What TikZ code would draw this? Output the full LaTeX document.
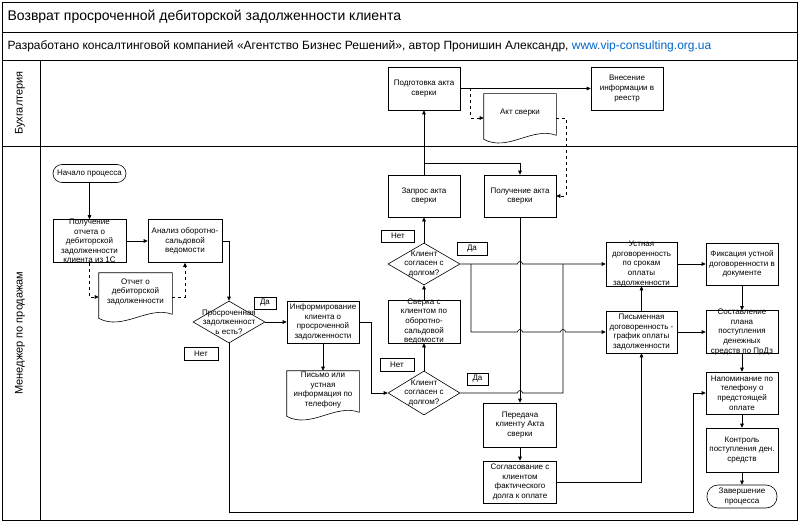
\documentclass[tikz,border=0pt]{standalone}
\usepackage{fontspec}
\setmainfont{Liberation Sans}
\usetikzlibrary{arrows.meta, shapes.geometric}
\definecolor{urlblue}{RGB}{0,102,204}

\begin{document}
\begin{tikzpicture}[x=1pt, y=-1pt, line width=0.6pt,
  every node/.style={font=\fontsize{8}{9.6}\selectfont},
  boxtext/.style={execute at begin node={\hbox to 0pt\bgroup\hss\vbox to 0pt\bgroup\vss\hbox\bgroup\vbox\bgroup\hsize=84pt\centering},
                  execute at end node={\endgraf\egroup\egroup\vss\egroup\hss\egroup}},
  box/.style={draw, boxtext, inner sep=0pt, minimum width=72pt, minimum height=43pt},
  dec/.style={draw, diamond, boxtext, inner sep=0pt, minimum width=72pt, minimum height=42pt},
  term/.style={draw, boxtext, inner sep=0pt, minimum width=72pt},
  doc/.style={boxtext, inner sep=0pt, minimum width=72pt, minimum height=38pt},
  lbl/.style={draw, inner sep=0pt, minimum height=12pt},
  arr/.style={-{Triangle[length=4pt, width=3.6pt]}},
  hop/.style={insert path={arc[start angle=180, end angle=0, radius=2.5pt]}}]
  \useasboundingbox (0,0) rectangle (804,527);

  % Frame, title and lanes
  \draw[line width=0.8pt] (2,2) rectangle (797,520);
  \draw (2,32) -- (797,32);
  \draw (2,60) -- (797,60);
  \draw (2,146) -- (797,146);
  \draw (40,60) -- (40,520);
  \node[anchor=west, font=\fontsize{14}{16}\selectfont] (title) at (4,17)
    {Возврат просроченной дебиторской задолженности клиента};
  \node[anchor=west, font=\fontsize{12}{14}\selectfont] (subtitle) at (4,46)
    {Разработано консалтинговой компанией «Агентство Бизнес Решений», автор Пронишин Александр, \textcolor{urlblue}{www.vip-consulting.org.ua}};
  \node[rotate=90, font=\fontsize{11}{13}\selectfont] (lanebuh) at (20,103) {Бухгалтерия};
  \node[rotate=90, font=\fontsize{11}{13}\selectfont] (lanemen) at (20,333) {Менеджер по продажам};

  % Lane 1: accounting
  \node[box] (podg) at (424,88.5) {Подготовка акта\\сверки};
  \node[box] (vnes) at (627,88.5) {Внесение\\информации в\\реестр};
  \node[doc] (akt) at (520,113) {Акт сверки};

  % Lane 2: sales manager
  \node[term, minimum width=73pt, minimum height=18pt, rounded corners=9pt] (start) at (89.5,173.5) {Начало процесса};
  \node[box, minimum width=73pt] (otch) at (89.5,241) {Получение\\отчета о\\дебиторской\\задолженности\\клиента из 1С};
  \node[box, minimum width=74pt] (anal) at (185,241) {Анализ оборотно-\\сальдовой\\ведомости};
  \node[doc, minimum width=73pt] (otdoc) at (135.5,292) {Отчет о\\дебиторской\\задолженности};
  \node[dec] (d1) at (229,322) {Просроченная\\задолженност\\ь есть?};
  \node[lbl, minimum width=22pt] (da1) at (265,303) {Да};
  \node[lbl, minimum width=34pt, minimum height=13pt] (net1) at (201,354) {Нет};
  \node[box, minimum height=42pt] (inf) at (323,322) {Информирование\\клиента о\\просроченной\\задолженности};
  \node[doc] (pismo) at (323,390) {Письмо или\\устная\\информация по\\телефону};
  \node[dec, minimum height=44pt] (d2) at (424,393) {Клиент\\согласен с\\долгом?};
  \node[lbl, minimum width=34pt, minimum height=13pt] (net2) at (397,365) {Нет};
  \node[lbl, minimum width=21pt] (da2) at (477.5,379) {Да};
  \node[box] (sver) at (424,321.5) {Сверка с\\клиентом по\\оборотно-\\сальдовой\\ведомости};
  \node[dec] (d3) at (424,264) {Клиент\\согласен с\\долгом?};
  \node[lbl, minimum width=33pt] (net3) at (398,236) {Нет};
  \node[lbl, minimum width=30pt, minimum height=13pt] (da3) at (472,249) {Да};
  \node[box, minimum height=42pt] (zapr) at (424,196) {Запрос акта\\сверки};
  \node[box, minimum height=42pt] (polu) at (520,196) {Получение акта\\сверки};
  \node[box, minimum width=73pt, minimum height=44pt] (pered) at (520,425) {Передача\\клиенту Акта\\сверки};
  \node[box, minimum width=73pt, minimum height=42pt] (sogl) at (520,482) {Согласование с\\клиентом\\фактического\\долга к оплате};
  \node[box, minimum width=71pt, minimum height=44pt] (ustn) at (641.5,264) {Устная\\договоренность\\по срокам\\оплаты\\задолженности};
  \node[box, minimum width=71pt, minimum height=42pt] (pism2) at (641.5,332) {Письменная\\договоренность -\\график оплаты\\задолженности};
  \node[box, minimum height=42pt] (fix) at (742,264) {Фиксация устной\\договоренности в\\документе};
  \node[box] (sost) at (742,332) {Составление\\плана\\поступления\\денежных\\средств по ПрДз};
  \node[box, minimum height=42pt] (napo) at (742,393) {Напоминание по\\телефону о\\предстоящей\\оплате};
  \node[box, minimum height=44pt] (kont) at (742,450) {Контроль\\поступления ден.\\средств};
  \node[term, minimum width=70pt, minimum height=23pt, rounded corners=11pt] (fin) at (742,496.5) {Завершение\\процесса};

  % Document outlines
  \foreach \d in {akt, otdoc, pismo}
    \draw (\d.north east) -- ([yshift=-3pt]\d.south east)
      .. controls ([xshift=-24pt, yshift=6pt]\d.south east) and ([xshift=24pt, yshift=-20pt]\d.south west)
      .. ([yshift=-7pt]\d.south west) -- (\d.north west) -- cycle;

  % Branch points
  \coordinate (podgsplit) at (470,88.5);
  \coordinate (zaprsplit) at (424,163);
  \coordinate (d3split) at (471,264);
  \coordinate (ustnjoin) at (563,264);
  \coordinate (netturn) at (693,512);

  % Main flow
  \draw[arr] (start) -- (otch);
  \draw[arr] (otch) -- (anal);
  \draw[arr, dashed] (otch.south) |- ([yshift=-5pt]otdoc.west);
  \draw[arr, dashed] ([yshift=-5pt]otdoc.east) -| (anal.south);
  \draw[arr] (anal.east) -| (d1.north);
  \draw[arr] (d1) -- (inf);
  \draw[arr] (inf) -- (pismo);
  \draw[arr] (inf.east) -- ++(12,0) |- (d2.west);
  \draw[arr] (d2) -- (sver);
  \draw[arr] (sver) -- (d3);
  \draw[arr] (d3) -- (zapr);
  \draw[arr] (zapr) -- (podg);
  \draw[arr] (zaprsplit) -| (polu.north);
  \draw[arr] (podg) -- (vnes);
  \draw[arr, dashed] (podgsplit) |- ([yshift=-5pt]akt.west);
  \draw[arr, dashed] ([yshift=-5pt]akt.east) -- ++(10,0) |- (polu.east);
  \draw[arr] (polu) -- (pered);
  \draw[arr] (pered) -- (sogl);
  \draw[arr] (sogl.east) -| (pism2.south);

  % Agreement branches (with line hops)
  \draw[arr] (d3.east) -- (517.5,264) [hop] -- (ustn.west);
  \draw[arr] (d3split) |- (517.5,332) [hop] -- (560.5,332) [hop] -- (pism2.west);
  \draw (d2.east) -- (517.5,393) [hop] -| (ustnjoin);
  \draw[arr] (pism2) -- (ustn);
  \draw[arr] (ustn) -- (fix);
  \draw[arr] (fix) -- (sost);
  \draw[arr] (pism2) -- (sost);
  \draw[arr] (sost) -- (napo);
  \draw[arr] (napo) -- (kont);
  \draw[arr] (kont) -- (fin);

  % No overdue debt
  \draw[arr] (d1.south) |- (netturn) |- (napo.west);
\end{tikzpicture}
\end{document}
